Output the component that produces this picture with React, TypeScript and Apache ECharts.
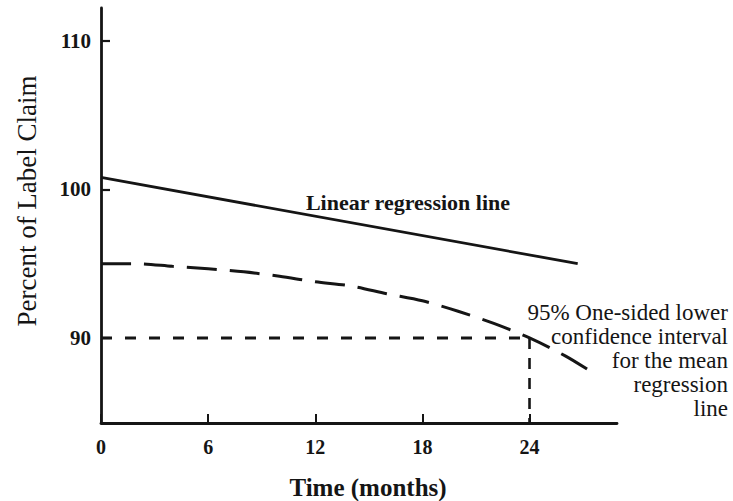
import React, { useEffect, useRef } from "react";
import * as echarts from "echarts";

// ---- data ----
const xTicks = [0, 6, 12, 18, 24];
const yTicks = [90, 100, 110];

const regressionMonths = [0, 26.7];
const regressionValues = [100.8, 95.0];

const ciMonths = [0, 2, 4, 6, 8, 10, 12, 14, 16, 18, 20, 22, 24, 26, 27.3];
const ciValues = [95.0, 95.0, 94.82, 94.65, 94.45, 94.15, 93.78, 93.5, 92.98, 92.5, 91.8, 90.98, 90.0, 88.8, 87.85];

const specLimit = 90;
const shelfLifeMonth = 24;

const xMin = 0;
const xMax = 28.9;
const yMin = 84.28;
const yMax = 112.2;

const regressionLabel = "Linear regression line";
const ciLabelLines = ["95% One-sided lower", "confidence interval", "for the mean", "regression", "line"];
const xTitle = "Time (months)";
const yTitle = "Percent of Label Claim";

const FONT = "Liberation Serif";
const INK = "#151515";

export default function App() {
  const ref = useRef<HTMLDivElement>(null);

  useEffect(() => {
    if (!ref.current) return;
    const chart = echarts.init(ref.current, null, { renderer: "svg" });

    const regData = regressionMonths.map((m, i) => [m, regressionValues[i]]);
    const ciData = ciMonths.map((m, i) => [m, ciValues[i]]);
    const hData = [
      [xMin, specLimit],
      [shelfLifeMonth, specLimit],
    ];
    const vData = [
      [shelfLifeMonth, specLimit],
      [shelfLifeMonth, yMin],
    ];

    const ciTextLines = ciLabelLines.map((t, i) => ({
      type: "text",
      x: 728,
      y: 312 + i * 24,
      style: {
        text: t,
        fontFamily: FONT,
        fontSize: 23,
        fontWeight: "normal",
        fill: INK,
        textAlign: "right",
        textVerticalAlign: "middle",
      },
    }));

    chart.setOption({
      animation: false,
      backgroundColor: "#ffffff",
      grid: { left: 101, right: 116, top: 8, bottom: 78, containLabel: false },
      xAxis: {
        type: "value",
        min: xMin,
        max: xMax,
        axisLine: { show: true, onZero: false, lineStyle: { color: INK, width: 2.8 } },
        axisTick: {
          show: true,
          inside: true,
          length: 9,
          customValues: xTicks,
          lineStyle: { color: INK, width: 2 },
        },
        axisLabel: {
          customValues: xTicks,
          margin: 14,
          color: INK,
          fontFamily: FONT,
          fontSize: 20,
          fontWeight: "bold",
        },
        splitLine: { show: false },
      },
      yAxis: {
        type: "value",
        min: yMin,
        max: yMax,
        axisLine: { show: true, onZero: false, lineStyle: { color: INK, width: 2.8 } },
        axisTick: {
          show: true,
          inside: true,
          length: 9,
          customValues: yTicks,
          lineStyle: { color: INK, width: 2.2 },
        },
        axisLabel: {
          customValues: yTicks,
          margin: 10,
          color: INK,
          fontFamily: FONT,
          fontSize: 21,
          fontWeight: "bold",
        },
        splitLine: { show: false },
      },
      series: [
        {
          type: "line",
          data: regData,
          symbol: "none",
          lineStyle: { color: INK, width: 2.8 },
          z: 3,
        },
        {
          type: "line",
          data: ciData,
          symbol: "none",
          smooth: 0.3,
          lineStyle: { color: INK, width: 3, type: [30, 13] },
          z: 3,
        },
        {
          type: "line",
          data: hData,
          symbol: "none",
          lineStyle: { color: INK, width: 3, type: [11, 13] },
          z: 2,
        },
        {
          type: "line",
          data: vData,
          symbol: "none",
          lineStyle: { color: INK, width: 2.6, type: [11, 9] },
          z: 2,
        },
      ],
      graphic: [
        {
          type: "text",
          x: 27,
          y: 201,
          rotation: Math.PI / 2,
          style: {
            text: yTitle,
            fontFamily: FONT,
            fontSize: 27,
            fontWeight: "normal",
            fill: INK,
            textAlign: "center",
            textVerticalAlign: "middle",
          },
        },
        {
          type: "text",
          x: 368,
          y: 487,
          style: {
            text: xTitle,
            fontFamily: FONT,
            fontSize: 25,
            fontWeight: "bold",
            fill: INK,
            textAlign: "center",
            textVerticalAlign: "middle",
          },
        },
        {
          type: "text",
          x: 408,
          y: 202,
          style: {
            text: regressionLabel,
            fontFamily: FONT,
            fontSize: 22,
            fontWeight: "bold",
            fill: INK,
            textAlign: "center",
            textVerticalAlign: "middle",
          },
        },
        ...ciTextLines,
      ],
    });

    return () => chart.dispose();
  }, []);

  return (
    <div
      ref={ref}
      style={{ position: "fixed", left: 0, top: 0, width: 733, height: 501, background: "#fff" }}
    />
  );
}
